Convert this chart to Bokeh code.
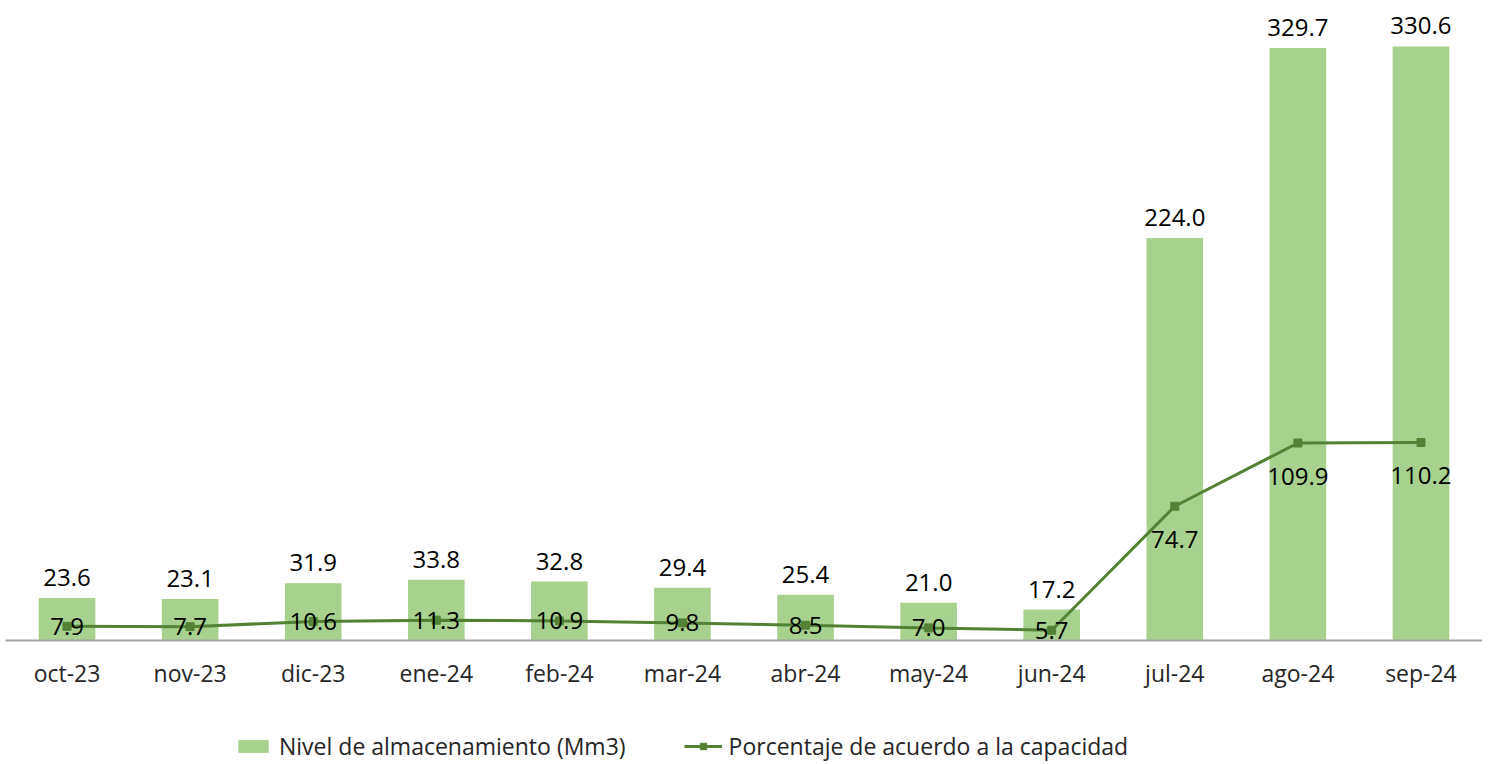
from bokeh.plotting import figure
from bokeh.models import ColumnDataSource, Legend, LegendItem, Range1d
from bokeh.layouts import column
from bokeh.core.properties import value
from bokeh.embed import file_html
from bokeh.resources import INLINE

months = ["oct-23", "nov-23", "dic-23", "ene-24", "feb-24", "mar-24",
          "abr-24", "may-24", "jun-24", "jul-24", "ago-24", "sep-24"]
storage = [23.6, 23.1, 31.9, 33.8, 32.8, 29.4, 25.4, 21.0, 17.2, 224.0, 329.7, 330.6]
percent = [7.9, 7.7, 10.6, 11.3, 10.9, 9.8, 8.5, 7.0, 5.7, 74.7, 109.9, 110.2]
series_names = ["Nivel de almacenamiento (Mm3)", "Porcentaje de acuerdo a la capacidad"]

FONT = "Open Sans"
BAR = "#A9D18E"
LINE = "#548235"

src = ColumnDataSource(dict(
    m=months, s=storage, p=percent,
    sl=[f"{v:.1f}" for v in storage],
    pl=[f"{v:.1f}" for v in percent],
    pdy=[33 if v > 50 else 0 for v in percent],
))

p = figure(x_range=months, width=1482, height=700, output_backend="svg",
           toolbar_location=None, min_border_top=8, min_border_left=5,
           min_border_right=0, min_border_bottom=60)
p.y_range = Range1d(0, 351.7)
p.outline_line_color = None
p.xgrid.grid_line_color = None
p.ygrid.grid_line_color = None
p.yaxis.visible = False
p.background_fill_color = "white"
p.border_fill_color = "white"

p.vbar(x="m", top="s", width=0.46, source=src, fill_color=BAR, line_color=None)
p.line(x="m", y="p", source=src, line_color=LINE, line_width=3)
p.scatter(x="m", y="p", source=src, marker="square", size=8,
          fill_color=LINE, line_color=LINE)

p.text(x="m", y="s", text="sl", source=src, text_align="center",
       text_baseline="bottom", y_offset=-12, text_font=value(FONT),
       text_font_size="24px", text_color="#000000")
p.text(x="m", y="p", text="pl", source=src, text_align="center",
       text_baseline="middle", y_offset="pdy", text_font=value(FONT),
       text_font_size="24px", text_color="#000000")

ax = p.xaxis[0]
ax.axis_line_color = "#A6A6A6"
ax.axis_line_width = 2
ax.major_tick_line_color = None
ax.minor_tick_line_color = None
ax.major_label_text_font = FONT
ax.major_label_text_font_size = "23px"
ax.major_label_text_color = "#262626"
ax.major_label_standoff = 10

# legend strip (dummy renderers sit outside the visible range; only their legend glyphs show)
p2 = figure(width=1482, height=62, output_backend="svg", toolbar_location=None,
            min_border_top=0, min_border_left=0, min_border_right=0, min_border_bottom=0,
            x_range=Range1d(0, 1), y_range=Range1d(0, 1))
p2.axis.visible = False
p2.grid.visible = False
p2.outline_line_color = None
dummy = ColumnDataSource(dict(x=[-10, -11], y=[-10, -11]))
lb = p2.vbar(x="x", top="y", width=0.5, source=dummy, fill_color=BAR, line_color=None)
ll = p2.line(x="x", y="y", source=dummy, line_color=LINE, line_width=3)
lm = p2.scatter(x="x", y="y", source=dummy, marker="square", size=8,
                fill_color=LINE, line_color=LINE)
legend = Legend(items=[
    LegendItem(label=series_names[0], renderers=[lb], index=0),
    LegendItem(label=series_names[1], renderers=[ll, lm], index=0),
], orientation="horizontal", location=(229, 0),
    label_text_font=FONT, label_text_font_size="23px", label_text_color="#262626",
    glyph_width=38, glyph_height=16, spacing=58, label_standoff=7,
    border_line_color=None, background_fill_alpha=0, margin=0, padding=0)
p2.add_layout(legend, "center")

open("out.html", "w").write(file_html(column(p, p2, spacing=0), INLINE))
